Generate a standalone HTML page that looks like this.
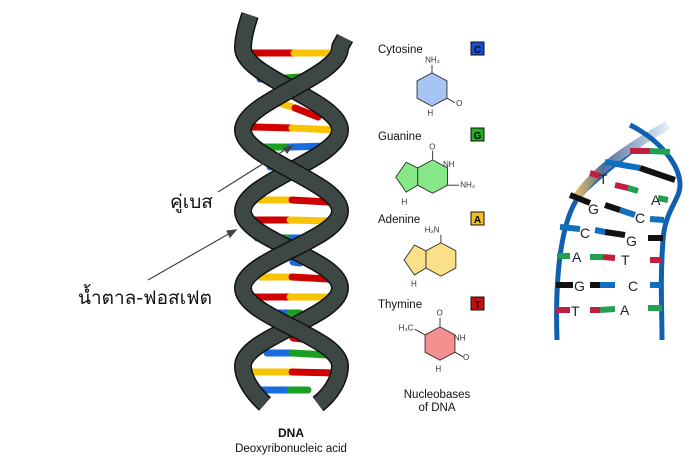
<!DOCTYPE html>
<html><head><meta charset="utf-8">
<style>
html,body{margin:0;padding:0;background:#fff;}
svg{display:block;font-family:"Liberation Sans","DejaVu Sans",sans-serif;}
</style></head>
<body>
<svg width="695" height="469" viewBox="0 0 695 469" xmlns="http://www.w3.org/2000/svg">
<rect width="695" height="469" fill="#fff"/>
<g stroke-linecap="round" stroke-width="7">
<line x1="250" y1="53" x2="294" y2="53" stroke="#d00000"/><line x1="294" y1="53" x2="340" y2="53" stroke="#f6c400"/>
<line x1="260" y1="79" x2="285" y2="78" stroke="#1a6be0"/><line x1="285" y1="78" x2="300" y2="77" stroke="#1aa020"/>
<line x1="280" y1="103" x2="295" y2="108" stroke="#f6c400"/><line x1="295" y1="108" x2="318" y2="117" stroke="#d00000"/>
<line x1="252" y1="127" x2="292" y2="128" stroke="#d00000"/><line x1="292" y1="128" x2="336" y2="130" stroke="#f6c400"/>
<line x1="249" y1="147" x2="290" y2="147" stroke="#1aa020"/><line x1="290" y1="147" x2="330" y2="146" stroke="#1a6be0"/>
<line x1="270" y1="167" x2="298" y2="166" stroke="#1a6be0"/>
<line x1="260" y1="200" x2="292" y2="200" stroke="#f6c400"/><line x1="292" y1="200" x2="328" y2="202" stroke="#d00000"/>
<line x1="247" y1="220" x2="290" y2="220" stroke="#d00000"/><line x1="290" y1="220" x2="333" y2="221" stroke="#f6c400"/>
<line x1="257" y1="238" x2="292" y2="238" stroke="#1aa020"/><line x1="292" y1="238" x2="300" y2="238" stroke="#1a6be0"/>
<line x1="293" y1="262" x2="300" y2="263" stroke="#1a6be0"/>
<line x1="260" y1="277" x2="292" y2="277" stroke="#f6c400"/><line x1="292" y1="277" x2="328" y2="279" stroke="#d00000"/>
<line x1="247" y1="297" x2="290" y2="297" stroke="#d00000"/><line x1="290" y1="297" x2="336" y2="297" stroke="#f6c400"/>
<line x1="257" y1="313" x2="290" y2="313" stroke="#1a6be0"/><line x1="290" y1="313" x2="300" y2="313" stroke="#1aa020"/>
<line x1="293" y1="338" x2="302" y2="339" stroke="#d00000"/>
<line x1="267" y1="353" x2="292" y2="353" stroke="#1a6be0"/><line x1="292" y1="353" x2="328" y2="355" stroke="#1aa020"/>
<line x1="247" y1="372" x2="292" y2="372" stroke="#f6c400"/><line x1="292" y1="372" x2="336" y2="373" stroke="#d00000"/>
<line x1="257" y1="390" x2="290" y2="390" stroke="#1a6be0"/><line x1="290" y1="390" x2="308" y2="390" stroke="#1aa020"/>
</g>
<g fill="none" stroke-linecap="butt">
<path d="M250,15 C245,30 243,40 243,48 C243,77 340,101 340,130 C340,159 243,182 243,211 C243,240 340,259 340,288 C340,317 243,337 243,366 C243,380 255,395 265,404" stroke="#111" stroke-width="18"/>
<path d="M250,15 C245,30 243,40 243,48 C243,77 340,101 340,130 C340,159 243,182 243,211 C243,240 340,259 340,288 C340,317 243,337 243,366 C243,380 255,395 265,404" stroke="#3d4744" stroke-width="15"/>
<path d="M345,38 C342,44 340,46 340,48 C340,77 243,101 243,130 C243,159 340,182 340,211 C340,240 243,259 243,288 C243,317 340,337 340,366 C340,380 330,395 318,404" stroke="#111" stroke-width="18"/>
<path d="M345,38 C342,44 340,46 340,48 C340,77 243,101 243,130 C243,159 340,182 340,211 C340,240 243,259 243,288 C243,317 340,337 340,366 C340,380 330,395 318,404" stroke="#3d4744" stroke-width="15"/>
</g>
<g stroke="#444" stroke-width="1.2" fill="#444">
<line x1="218" y1="192" x2="288" y2="148"/><polygon points="292,146 284,148 287,153"/>
<line x1="148" y1="280" x2="232" y2="232"/><polygon points="236,230 227,231 230,237"/>
</g>
<text x="170" y="208" font-size="19" fill="#111" font-family="'DejaVu Sans','Noto Sans CJK SC',sans-serif">คู่เบส</text>
<text x="78" y="304" font-size="19" fill="#111" font-family="'DejaVu Sans','Noto Sans CJK SC',sans-serif">น้ำตาล-ฟอสเฟต</text>
<text x="291" y="437" font-size="12" font-weight="bold" text-anchor="middle" fill="#111">DNA</text>
<text x="291" y="452" font-size="11.5" text-anchor="middle" fill="#111">Deoxyribonucleic acid</text>
<g font-size="11.5" fill="#111">
<text x="378" y="53">Cytosine</text>
<text x="378" y="140">Guanine</text>
<text x="378" y="223">Adenine</text>
<text x="378" y="308">Thymine</text>
<text x="437" y="398" text-anchor="middle">Nucleobases</text>
<text x="437" y="411" text-anchor="middle">of DNA</text>
</g>
<g font-size="10" font-weight="bold" text-anchor="middle">
<rect x="471" y="42" width="13" height="13" fill="#1050d0" stroke="#111"/><text x="477.5" y="53" fill="#000">C</text>
<rect x="471" y="128" width="13" height="13" fill="#20b020" stroke="#111"/><text x="477.5" y="139" fill="#000">G</text>
<rect x="471" y="212" width="13" height="13" fill="#f0c020" stroke="#111"/><text x="477.5" y="223" fill="#000">A</text>
<rect x="471" y="297" width="13" height="13" fill="#c01010" stroke="#111"/><text x="477.5" y="308" fill="#000">T</text>
</g>
<g stroke="#333" stroke-width="0.8" font-size="7" fill="#333">
<g transform="translate(432,89) scale(1.15) translate(-432,-89)">
<polygon points="432,75 445,82 445,97 432,104 419,97 419,82" fill="#a6c4f4"/>
<line x1="432" y1="75" x2="432" y2="68"/><line x1="445" y1="97" x2="452" y2="101"/>
<text x="426" y="66" stroke="none">NH₂</text><text x="453" y="104" stroke="none">O</text><text x="428" y="112" stroke="none">H</text>
</g>
<g transform="translate(428,176) scale(1.15) translate(-428,-176)">
<polygon points="432,162 445,169 445,184 432,191 419,184 419,169" fill="#86e886"/>
<polygon points="419,169 419,184 409,190 400,177 409,164" fill="#86e886"/>
<line x1="432" y1="162" x2="432" y2="154"/><line x1="445" y1="184" x2="455" y2="184"/>
<text x="429" y="153" stroke="none">O</text><text x="456" y="186" stroke="none">NH₂</text><text x="441" y="168" stroke="none">NH</text><text x="405" y="201" stroke="none">H</text>
</g>
<g transform="translate(434,260) scale(1.15) translate(-434,-260)">
<polygon points="440,245 453,252 453,267 440,274 427,267 427,252" fill="#fbe08a"/>
<polygon points="427,252 427,267 417,273 408,260 417,247" fill="#fbe08a"/>
<line x1="440" y1="245" x2="440" y2="238"/>
<text x="426" y="236" stroke="none">H₂N</text><text x="414" y="283" stroke="none">H</text>
</g>
<g transform="translate(440,343) scale(1.15) translate(-440,-343)">
<polygon points="440,329 453,336 453,351 440,358 427,351 427,336" fill="#f49090"/>
<line x1="440" y1="329" x2="440" y2="321"/><line x1="453" y1="351" x2="460" y2="355"/><line x1="427" y1="336" x2="418" y2="331"/>
<text x="437" y="319" stroke="none">O</text><text x="460" y="358" stroke="none">O</text><text x="404" y="332" stroke="none">H₃C</text><text x="452" y="341" stroke="none">NH</text><text x="436" y="368" stroke="none">H</text>
</g>
</g>
<defs><linearGradient id="g1" x1="0" y1="0" x2="1" y2="0">
<stop offset="0" stop-color="#e8c060"/><stop offset="0.3" stop-color="#5070a0"/><stop offset="1" stop-color="#e8eef8"/></linearGradient></defs>
<path d="M557,340 C555,280 560,220 580,195 C600,175 620,160 665,125" fill="none" stroke="#1060b0" stroke-width="5"/>
<path d="M575,200 C595,170 625,150 668,125" fill="none" stroke="url(#g1)" stroke-width="9"/>
<path d="M630,125 C660,140 680,165 680,185 C680,200 665,210 663,240 C660,280 662,310 662,340" fill="none" stroke="#1060b0" stroke-width="5"/>
<g stroke-width="6" stroke-linecap="butt">
<line x1="630" y1="151" x2="650" y2="151" stroke="#c02040"/><line x1="650" y1="151" x2="670" y2="152" stroke="#20a050"/>
<line x1="605" y1="162" x2="640" y2="168" stroke="#1070c0"/><line x1="640" y1="168" x2="675" y2="180" stroke="#111"/>
<line x1="590" y1="173" x2="600" y2="176" stroke="#c02040"/><line x1="615" y1="185" x2="628" y2="188" stroke="#c02040"/><line x1="628" y1="188" x2="638" y2="191" stroke="#20a050"/><line x1="658" y1="198" x2="668" y2="200" stroke="#20a050"/>
<line x1="570" y1="195" x2="590" y2="203" stroke="#111"/><line x1="605" y1="205" x2="620" y2="210" stroke="#111"/><line x1="620" y1="210" x2="635" y2="215" stroke="#1070c0"/><line x1="650" y1="219" x2="664" y2="220" stroke="#1070c0"/>
<line x1="560" y1="227" x2="580" y2="229" stroke="#1070c0"/><line x1="595" y1="230" x2="605" y2="232" stroke="#1070c0"/><line x1="605" y1="232" x2="625" y2="235" stroke="#111"/><line x1="648" y1="238" x2="663" y2="238" stroke="#111"/>
<line x1="557" y1="256" x2="570" y2="256" stroke="#20a050"/><line x1="590" y1="257" x2="603" y2="257" stroke="#20a050"/><line x1="603" y1="257" x2="615" y2="258" stroke="#c02040"/><line x1="650" y1="260" x2="662" y2="260" stroke="#c02040"/>
<line x1="556" y1="285" x2="573" y2="285" stroke="#111"/><line x1="590" y1="285" x2="600" y2="285" stroke="#111"/><line x1="600" y1="285" x2="615" y2="285" stroke="#1070c0"/><line x1="650" y1="285" x2="662" y2="285" stroke="#1070c0"/>
<line x1="556" y1="310" x2="570" y2="310" stroke="#c02040"/><line x1="590" y1="310" x2="600" y2="310" stroke="#c02040"/><line x1="600" y1="310" x2="615" y2="309" stroke="#20a050"/><line x1="648" y1="308" x2="662" y2="308" stroke="#20a050"/>
</g>
<g font-size="14" fill="#222" font-family="'Liberation Sans',sans-serif">
<text x="599" y="184">T</text><text x="651" y="205">A</text>
<text x="588" y="214">G</text><text x="635" y="223">C</text>
<text x="580" y="238">C</text><text x="626" y="246">G</text>
<text x="572" y="262">A</text><text x="621" y="265">T</text>
<text x="574" y="291">G</text><text x="628" y="291">C</text>
<text x="571" y="316">T</text><text x="620" y="315">A</text>
</g>
</svg>
</body></html>
